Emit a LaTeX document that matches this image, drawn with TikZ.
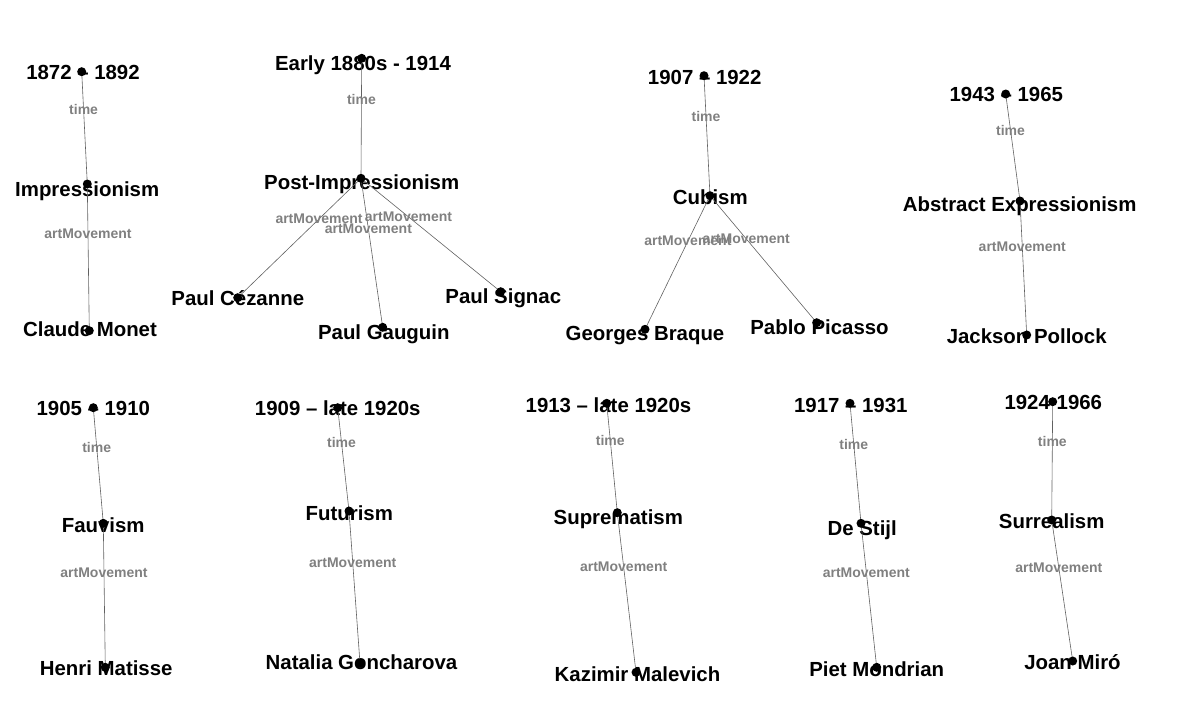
\documentclass[tikz,border=0pt]{standalone}
\usepackage{fontspec}
\setmainfont{Liberation Sans}
\begin{document}
\begin{tikzpicture}[x=1pt,y=-1pt,inner sep=0pt,outer sep=0pt,
vertex/.style={anchor=base,font=\fontsize{20.4}{24}\selectfont\bfseries},
rel/.style={draw=black!62,line width=0.6pt},
rellabel/.style={pos=0.34,font=\fontsize{14}{16}\selectfont\bfseries,text=black!50}]
\useasboundingbox (0,0) rectangle (1194,716);
% dot positions
\coordinate (imp-date) at (81.7,71.7);
\coordinate (imp) at (87.3,184);
\coordinate (monet) at (89.3,330.7);
\coordinate (post-date) at (361.7,58.3);
\coordinate (post) at (361,178.3);
\coordinate (cezanne) at (237.7,297.7);
\coordinate (gauguin) at (382.7,327.3);
\coordinate (signac) at (500.7,291.7);
\coordinate (cub-date) at (704,75.7);
\coordinate (cub) at (710,195.7);
\coordinate (braque) at (645,329.3);
\coordinate (picasso) at (816.7,322.7);
\coordinate (abs-date) at (1005.7,94);
\coordinate (abs) at (1020,201);
\coordinate (pollock) at (1026.7,335);
\coordinate (fau-date) at (93.3,407.7);
\coordinate (fau) at (103.3,523.3);
\coordinate (matisse) at (105.3,667.3);
\coordinate (fut-date) at (337.7,407.7);
\coordinate (fut) at (349,511);
\coordinate (goncharova) at (360,663.3);
\coordinate (sup-date) at (606.7,403.3);
\coordinate (sup) at (617.3,512.7);
\coordinate (malevich) at (636,672.3);
\coordinate (stijl-date) at (850,403.3);
\coordinate (stijl) at (861,523.3);
\coordinate (mondrian) at (876.7,667.3);
\coordinate (sur-date) at (1052.7,401.7);
\coordinate (sur) at (1051.7,520);
\coordinate (miro) at (1072.7,661);
% labels
\draw (83,79.3) node[vertex] (imp-date-t) {1872 – 1892};
\draw (87.2,196.7) node[vertex] (imp-t) {Impressionism};
\draw (90,336.7) node[vertex] (monet-t) {Claude Monet};
\draw (363,70) node[vertex] (post-date-t) {Early 1880s - 1914};
\draw (361.7,189) node[vertex] (post-t) {Post-Impressionism};
\draw (237.8,305.7) node[vertex] (cezanne-t) {Paul Cézanne};
\draw (383.8,339) node[vertex] (gauguin-t) {Paul Gauguin};
\draw (503.3,303) node[vertex] (signac-t) {Paul Signac};
\draw (704.7,84.3) node[vertex] (cub-date-t) {1907 – 1922};
\draw (710.3,204) node[vertex] (cub-t) {Cubism};
\draw (645,340) node[vertex] (braque-t) {Georges Braque};
\draw (819.5,334) node[vertex] (picasso-t) {Pablo Picasso};
\draw (1006.3,101.7) node[vertex] (abs-date-t) {1943 – 1965};
\draw (1019.7,211.7) node[vertex] (abs-t) {Abstract Expressionism};
\draw (1026.7,343.3) node[vertex] (pollock-t) {Jackson Pollock};
\draw (93.3,415.7) node[vertex] (fau-date-t) {1905 – 1910};
\draw (103.2,532.3) node[vertex] (fau-t) {Fauvism};
\draw (106.2,675.7) node[vertex] (matisse-t) {Henri Matisse};
\draw (337.8,415.7) node[vertex] (fut-date-t) {1909 – late 1920s};
\draw (349.3,520) node[vertex] (fut-t) {Futurism};
\draw (361.5,669) node[vertex] (goncharova-t) {Natalia Goncharova};
\draw (608.5,412.3) node[vertex] (sup-date-t) {1913 – late 1920s};
\draw (618.3,524) node[vertex] (sup-t) {Suprematism};
\draw (637.5,681.7) node[vertex] (malevich-t) {Kazimir Malevich};
\draw (850.8,412.3) node[vertex] (stijl-date-t) {1917 – 1931};
\draw (862.2,535) node[vertex] (stijl-t) {De Stijl};
\draw (876.7,676.7) node[vertex] (mondrian-t) {Piet Mondrian};
\draw (1053.3,409.3) node[vertex] (sur-date-t) {1924-1966};
\draw (1051.7,528.3) node[vertex] (sur-t) {Surrealism};
\draw (1072.5,669.3) node[vertex] (miro-t) {Joan Miró};
% edges
\foreach \m in {imp,post,cub,abs,fau,fut,sup,stijl,sur}
  \draw[rel] (\m-date) -- node[rellabel] {time} (\m);
\foreach \m/\a in {imp/monet,post/cezanne,post/gauguin,post/signac,cub/braque,cub/picasso,
  abs/pollock,fau/matisse,fut/goncharova,sup/malevich,stijl/mondrian,sur/miro}
  \draw[rel] (\m) -- node[rellabel] {artMovement} (\a);
% dots
\foreach \n in {imp-date,imp,monet,post-date,post,cezanne,gauguin,signac,cub-date,cub,braque,picasso,
  abs-date,abs,pollock,fau-date,fau,matisse,fut-date,fut,goncharova,sup-date,sup,malevich,
  stijl-date,stijl,mondrian,sur-date,sur,miro}
  \fill (\n) circle (4.5);
\end{tikzpicture}
\end{document}
